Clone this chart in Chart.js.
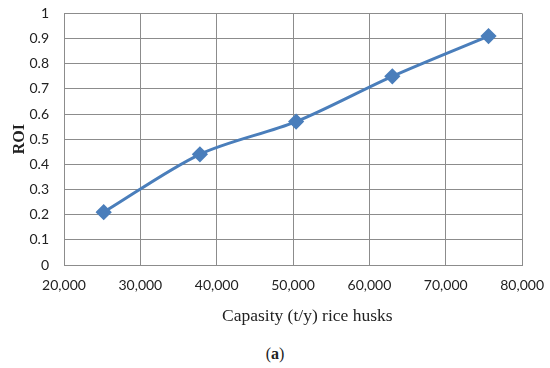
<!DOCTYPE html>
<html>
<head>
<meta charset="utf-8">
<script src="https://cdn.jsdelivr.net/npm/chart.js@4/dist/chart.umd.min.js"></script>
<style>
	html, body { margin: 0; padding: 0; background: #fff; }
	#wrap { position: relative; width: 550px; height: 368px; overflow: hidden; }
	#chart-box { position: absolute; left: 0; top: -10px; width: 556px; height: 340px; }
	.label { position: absolute; font-family: "Liberation Serif", "DejaVu Serif", serif; color: #222; white-space: nowrap; }
	#x-title { left: 222px; top: 305px; font-size: 17.5px; }
	#caption { left: 0; width: 550px; top: 345px; text-align: center; font-size: 16px; }
</style>
</head>
<body>
<div id="wrap">
	<div id="chart-box"><canvas id="roi-chart"></canvas></div>
	<div id="x-title" class="label">Capasity (t/y) rice husks</div>
	<div id="caption" class="label">(<b>a</b>)</div>
</div>
<script>
	// ── Data ────────────────────────────────────────────────────────────────
	var capacity = [25200, 37800, 50400, 63000, 75600];
	var roi      = [0.21, 0.44, 0.57, 0.75, 0.91];

	var BLUE = '#4a7ebb';
	var GRID = '#8c8c8c';
	var TICK_FONT  = { family: 'Lato, "Open Sans", sans-serif', size: 14 };
	var SERIF      = '"Liberation Serif", "DejaVu Serif", serif';

	var points = capacity.map(function (c, i) { return { x: c, y: roi[i] }; });

	new Chart(document.getElementById('roi-chart'), {
		type: 'line',
		data: {
			datasets: [{
				data: points,
				borderColor: BLUE,
				backgroundColor: BLUE,
				borderWidth: 3,
				tension: 0.3,
				pointStyle: 'rectRot',
				pointRadius: 6,
				pointHoverRadius: 6,
				fill: false
			}]
		},
		options: {
			responsive: true,
			maintainAspectRatio: false,
			animation: false,
			layout: { padding: { top: 2, right: 22, left: 0, bottom: 0 } },
			plugins: { legend: { display: false }, tooltip: { enabled: false } },
			scales: {
				x: {
					type: 'linear',
					min: 20000,
					max: 80000,
					grid: { color: GRID, drawTicks: false },
					border: { color: GRID },
					ticks: {
						stepSize: 10000,
						padding: 12,
						color: '#222',
						font: TICK_FONT,
						callback: function (v) { return v.toLocaleString('en-US'); }
					},
					// title drawn as html (#x-title), Excel puts it a little right of centre
					afterFit: function (s) { s.height = 65; }
				},
				y: {
					min: 0,
					max: 1,
					grid: { color: GRID, drawTicks: false },
					border: { color: GRID },
					ticks: {
						stepSize: 0.1,
						padding: 15,
						color: '#222',
						font: TICK_FONT,
						callback: function (v) { return String(+v.toFixed(1)); }
					},
					title: { display: true, text: 'ROI', color: '#222', font: { family: SERIF, size: 16, weight: 'bold' }, padding: { top: 10, bottom: 0 } },
					afterFit: function (s) { s.width = 64; }
				}
			}
		}
	});
</script>
</body>
</html>
